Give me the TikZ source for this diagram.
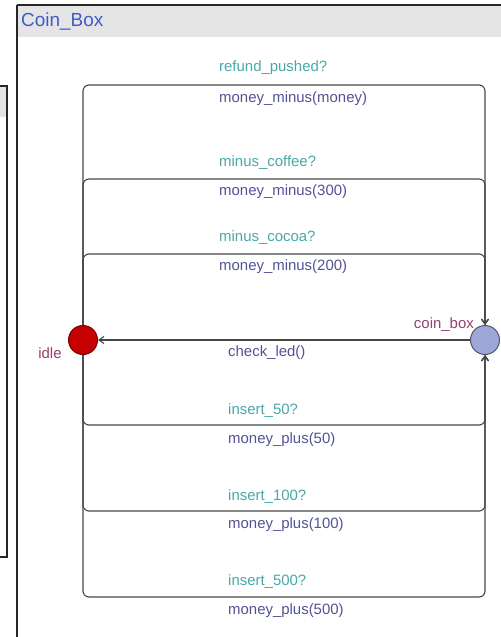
\documentclass[tikz,border=0pt]{standalone}
\usepackage{fontspec}
\setmainfont{Liberation Sans}
\usetikzlibrary{arrows.meta}

\definecolor{synccol}{RGB}{72,168,168}
\definecolor{updcol}{RGB}{82,82,150}
\definecolor{loccol}{RGB}{150,62,112}
\definecolor{titlecol}{RGB}{62,92,200}
\definecolor{idlefill}{RGB}{196,0,0}
\definecolor{idleline}{RGB}{120,0,0}
\definecolor{cbfill}{RGB}{158,168,216}
\definecolor{cbline}{RGB}{85,85,105}
\definecolor{headgray}{RGB}{229,229,229}
\definecolor{edgecol}{RGB}{70,70,70}

\tikzset{
  panel/.style={draw=black!85, line width=1.2bp},
  header/.style={fill=headgray, draw=none},
  loc/.style={circle, minimum size=29bp, inner sep=0pt, line width=1bp},
  edge/.style={draw=edgecol, line width=1.1bp, rounded corners=6bp,
    -{Straight Barb[length=5bp,width=7bp,line width=1.1bp]}},
  lbl/.style={font=\fontsize{15}{18}\selectfont, inner sep=0pt, anchor=west},
  sync/.style={lbl, text=synccol},
  upd/.style={lbl, text=updcol},
  locname/.style={font=\fontsize{15}{18}\selectfont, inner sep=0pt, text=loccol},
}

\begin{document}
\begin{tikzpicture}[x=1bp, y=-1bp]
\useasboundingbox (0,0) rectangle (501,637);
\clip (0,0) rectangle (501,637);

% neighbouring template panel, cut off at the left
\fill[white] (-20,86) rectangle (7,557);
\fill[header] (-20,87) rectangle (7,117);
\draw[panel] (-20,86) rectangle (7,557);

% Coin_Box template panel
\fill[header] (17,5) rectangle (520,37);
\draw[panel] (17,5) -- (520,5) (17,5) -- (17,660);
\node[font=\fontsize{19}{22}\selectfont, text=titlecol, anchor=west, inner sep=0pt] (title) at (21,22) {Coin\_Box};

% locations
\node[loc, fill=idlefill, draw=idleline] (idle) at (83,340) {};
\node[loc, fill=cbfill, draw=cbline] (cb) at (485,340) {};
\node[locname] (idlename) at (50,353) {idle};
\node[locname, anchor=east] (cbname) at (474,325) {coin\_box};

% nails of the looping edges
\coordinate (t1) at (300,85);
\coordinate (t2) at (300,179);
\coordinate (t3) at (300,254);
\coordinate (b1) at (300,425);
\coordinate (b2) at (300,511);
\coordinate (b3) at (300,597);

% edges above: idle -> coin_box
\draw[edge] (idle) |- (t1) -| (cb);
\draw[edge] (idle) |- (t2) -| (cb);
\draw[edge] (idle) |- (t3) -| (cb);
% edges below: idle -> coin_box
\draw[edge] (idle) |- (b1) -| (cb);
\draw[edge] (idle) |- (b2) -| (cb);
\draw[edge] (idle) |- (b3) -| (cb);
% direct edge: coin_box -> idle
\draw[edge] (cb) -- (idle);

% labels
\node[sync] (s1) at (219,68) {refund\_pushed?};
\node[upd]  (u1) at (219,99) {money\_minus(money)};
\node[sync] (s2) at (219,163) {minus\_coffee?};
\node[upd]  (u2) at (219,192) {money\_minus(300)};
\node[sync] (s3) at (219,238) {minus\_cocoa?};
\node[upd]  (u3) at (219,267) {money\_minus(200)};
\node[upd]  (u0) at (228,353) {check\_led()};
\node[sync] (s4) at (228,411) {insert\_50?};
\node[upd]  (u4) at (228,440) {money\_plus(50)};
\node[sync] (s5) at (228,497) {insert\_100?};
\node[upd]  (u5) at (228,525) {money\_plus(100)};
\node[sync] (s6) at (228,582) {insert\_500?};
\node[upd]  (u6) at (228,611) {money\_plus(500)};
\end{tikzpicture}
\end{document}
